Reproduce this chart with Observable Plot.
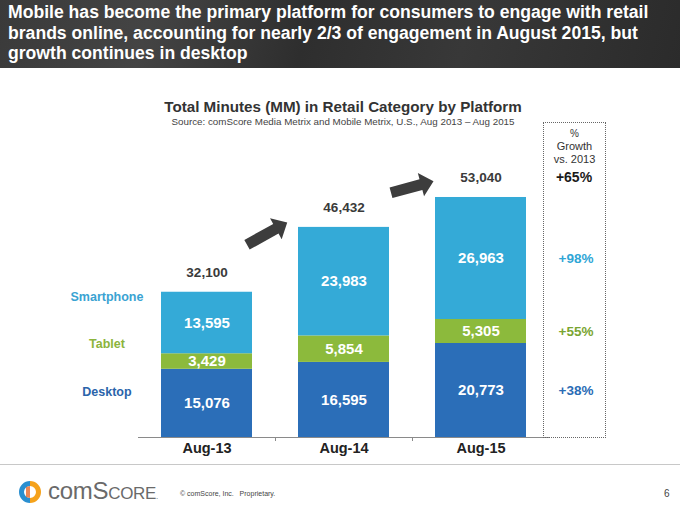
<!DOCTYPE html>
<html>
<head>
<meta charset="utf-8">
<script src="https://cdn.jsdelivr.net/npm/d3@7"></script>
<script src="https://cdn.jsdelivr.net/npm/@observablehq/plot@0.6"></script>
<style>
  html, body { margin: 0; padding: 0; background: #fff; }
  body { font-family: "Liberation Sans", Arial, sans-serif; }
  #page { position: relative; width: 680px; height: 513px; overflow: hidden; background: #fff; }
  #header { position: absolute; left: 0; top: 0; width: 680px; height: 68px;
    background: linear-gradient(105deg, #3a3a3a 0%, #444 22%, #2e2e2e 45%, #383838 68%, #2b2b2b 100%);
    color: #fff; font-weight: bold; font-size: 17.6px; line-height: 20.5px; padding: 2px 8px; box-sizing: border-box; white-space: nowrap; }
  .abs { position: absolute; white-space: nowrap; }
  #chart { position: absolute; left: 0; top: 0; }
</style>
</head>
<body>
<div id="page">
  <div id="header">Mobile has become the primary platform for consumers to engage with retail<br>brands online, accounting for nearly 2/3 of engagement in August 2015, but<br>growth continues in desktop</div>
  <div id="chart"></div>
  <div class="abs" style="left:143px;width:400px;top:98px;text-align:center;font-weight:bold;font-size:15.2px;color:#333;">Total Minutes (MM) in Retail Category by Platform</div>
  <div class="abs" style="left:143px;width:400px;top:116px;text-align:center;font-size:9.8px;color:#444;">Source: comScore Media Metrix and Mobile Metrix, U.S., Aug 2013 – Aug 2015</div>
  <div class="abs" style="left:543px;top:122px;width:63px;height:316px;border:1.5px dotted #666;box-sizing:border-box;"></div>
  <div class="abs" style="left:543px;width:63px;top:127px;text-align:center;font-size:11px;line-height:13px;color:#333;"><span style="font-size:10px">%</span><br>Growth<br>vs. 2013</div>
  <div id="legend"></div>
  <div class="abs" style="left:0;top:464px;width:680px;height:1px;background:#c8c8c8;"></div>
  <svg class="abs" style="left:17px;top:479px;" width="26" height="26" viewBox="0 0 26 26">
    <path d="M13 2 A11 11 0 0 0 13 24 L13 19 A6 6 0 0 1 13 7 Z" fill="#2a8fd0"/>
    <path d="M13 2 A11 11 0 0 1 13 24 L13 19 A6 6 0 0 0 13 7 Z" fill="#f5a21b"/>
    <path d="M9 8 L13 7 L13 19 L9 18 Z" fill="#e8692a" opacity="0.8"/>
  </svg>
  <div class="abs" style="left:48px;top:477px;font-size:24px;color:#6a6a6a;letter-spacing:-0.3px;">com<span style="font-variant:small-caps;">Score</span><span style="font-size:8px;">.</span></div>
  <div class="abs" style="left:180px;top:490px;font-size:7px;color:#444;">© comScore, Inc.&nbsp;&nbsp;&nbsp;Proprietary.</div>
  <div class="abs" style="left:664px;top:488px;font-size:10px;color:#444;">6</div>
</div>
<script>
// ---- data ----
const dates = ["Aug-13", "Aug-14", "Aug-15"];
const platforms = ["Desktop", "Tablet", "Smartphone"];
const desktop = [15076, 16595, 20773];
const tablet = [3429, 5854, 5305];
const smartphone = [13595, 23983, 26963];
const totals = [32100, 46432, 53040];
const growthByPlatform = ["+38%", "+55%", "+98%"];
const growthTotal = "+65%";
const platformColors = ["#2b6eb8", "#8cba3c", "#34aad7"];
const growthColors = ["#2a6cb5", "#7aa532", "#2fa6d6"];
const legendColors = ["#2a64aa", "#8cb43c", "#3aa3d2"];
// growth arrows: start category, start value, direction (degrees clockwise from up)
const arrowFrom = ["Aug-13", "Aug-14"];
const arrowStart = [42600, 54100];
const arrowAngle = [61, 75];

// ---- table ----
const series = [desktop, tablet, smartphone];
const rows = [];
dates.forEach((d, i) => platforms.forEach((p, j) => rows.push({date: d, platform: p, value: series[j][i]})));
const totalRows = dates.map((d, i) => ({date: d, total: totals[i]}));
const arrowRows = arrowFrom.map((d, i) => ({date: d, y: arrowStart[i], angle: arrowAngle[i]}));
const fmt = d3.format(",");
const last = dates[dates.length - 1];
const lastRows = rows.filter(r => r.date === last).map(r => ({...r, growth: growthByPlatform[platforms.indexOf(r.platform)]}));

const W = 680, H = 513, mL = 138, mR = 131, mB = 76, mT = 165.5;
const step = (W - mL - mR) / dates.length;
const font = '"Liberation Sans", Arial, sans-serif';

// block arrow shape for Plot.vector
const blockArrow = {
  draw(ctx, l) {
    const w = 11, hw = 24, hl = 13;
    ctx.moveTo(-w / 2, 0);
    ctx.lineTo(-w / 2, -(l - hl));
    ctx.lineTo(-hw / 2, -(l - hl));
    ctx.lineTo(0, -l);
    ctx.lineTo(hw / 2, -(l - hl));
    ctx.lineTo(w / 2, -(l - hl));
    ctx.lineTo(w / 2, 0);
    ctx.closePath();
  }
};

const chart = Plot.plot({
  width: W, height: H,
  marginLeft: mL, marginRight: mR, marginTop: mT, marginBottom: mB,
  style: {fontFamily: font, background: "transparent", overflow: "visible"},
  x: {domain: dates, paddingInner: 0.336, paddingOuter: 0.168, axis: null},
  y: {domain: [0, 60000], axis: null},
  color: {domain: platforms, range: platformColors},
  marks: [
    Plot.barY(rows, {x: "date", y: "value", fill: "platform", z: "platform"}),
    Plot.text(rows, Plot.stackY({x: "date", y: "value", z: "platform", text: d => fmt(d.value),
      fill: "white", fontSize: 15, fontWeight: "bold"})),
    Plot.text(totalRows, {x: "date", y: "total", text: d => fmt(d.total), dy: -20,
      fill: "#3a3a3a", fontSize: 13.5, fontWeight: "bold"}),
    Plot.ruleY([0], {stroke: "#8a8a8a", strokeWidth: 1}),
    Plot.ruleX(dates.slice(1), {x: d => d, y1: 0, y2: 0, insetBottom: -4, dx: -step / 2, stroke: "#8a8a8a"}),
    Plot.text(dates, {x: d => d, frameAnchor: "bottom", dy: 15, text: d => d,
      fill: "#222", fontSize: 14.5, fontWeight: "bold"}),
    // growth column (aligned to latest bar's labels)
    Plot.text(lastRows, Plot.stackY({x: "date", y: "value", z: "platform", text: "growth",
      fill: d => growthColors[platforms.indexOf(d.platform)], dx: 95, fontSize: 13.5, fontWeight: "bold"})),
    Plot.text(totalRows.filter(r => r.date === last), {x: "date", y: "total", text: () => growthTotal,
      dy: -20, dx: 93, fill: "#1a1a1a", fontSize: 14, fontWeight: "bold"}),
    // growth arrows
    Plot.vector([arrowRows[0]], {x: "date", y: "y", rotate: "angle", length: 46, anchor: "start",
      shape: blockArrow, fill: "#3d3d3d", stroke: "none", dx: 40}),
    Plot.vector([arrowRows[1]], {x: "date", y: "y", rotate: "angle", length: 44, anchor: "start",
      shape: blockArrow, fill: "#3d3d3d", stroke: "none", dx: 47})
  ]
});
document.getElementById("chart").appendChild(chart);

// legend labels
const legendY = {Smartphone: 298, Tablet: 345, Desktop: 393};
const legend = document.getElementById("legend");
platforms.forEach((p, j) => {
  const el = document.createElement("div");
  el.className = "abs";
  el.style.cssText = `left:47px;width:120px;text-align:center;top:${legendY[p] - 8}px;font-size:12.5px;font-weight:bold;color:${legendColors[j]};`;
  el.textContent = p;
  legend.appendChild(el);
});
</script>
</body>
</html>
